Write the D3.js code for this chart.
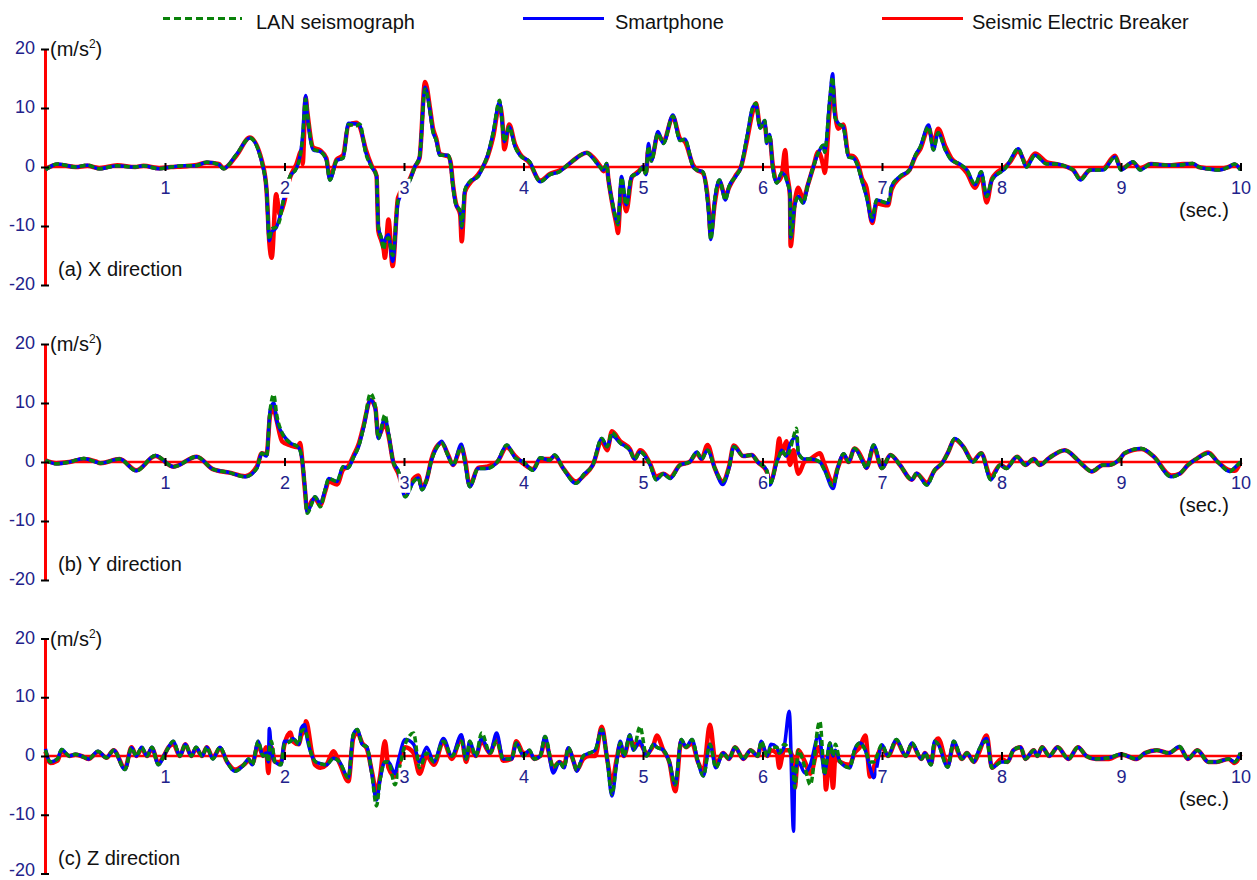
<!DOCTYPE html>
<html>
<head>
<meta charset="utf-8">
<script src="https://cdnjs.cloudflare.com/ajax/libs/d3/7.8.5/d3.min.js"></script>
<style>
  body { margin: 0; background: #fff; }
  svg { display: block; font-family: Arial, "Liberation Sans", sans-serif; }
</style>
</head>
<body>
<div id="chart"></div>
<script>
// ---- data (sec., m/s2) ----

// (a) X direction
var timeX = [
  0.00, 0.10, 0.25, 0.35, 0.45, 0.60, 0.75, 0.82, 0.95, 1.05,
  1.15, 1.25, 1.35, 1.45, 1.49, 1.60, 1.71, 1.82, 1.85, 1.873,
  1.893, 1.93, 1.96, 1.99, 2.046, 2.10, 2.144, 2.152, 2.177, 2.19,
  2.24, 2.30, 2.35, 2.38, 2.437, 2.49, 2.534, 2.60, 2.63, 2.68,
  2.73, 2.77, 2.785, 2.81, 2.83, 2.84, 2.87, 2.905, 2.95, 3.05,
  3.09, 3.13, 3.176, 3.22, 3.24, 3.27, 3.30, 3.37, 3.39, 3.41,
  3.435, 3.47, 3.483, 3.51, 3.55, 3.62, 3.66, 3.70, 3.745, 3.80,
  3.82, 3.84, 3.88, 3.93, 3.97, 4.05, 4.14, 4.22, 4.30, 4.35,
  4.41, 4.53, 4.58, 4.64, 4.67, 4.696, 4.71, 4.75, 4.78, 4.79,
  4.82, 4.86, 4.905, 4.96, 5.00, 5.025, 5.045, 5.07, 5.125, 5.17,
  5.25, 5.31, 5.35, 5.42, 5.45, 5.50, 5.55, 5.567, 5.60, 5.64,
  5.69, 5.72, 5.78, 5.82, 5.87, 5.92, 5.945, 5.98, 6.02, 6.035,
  6.06, 6.085, 6.12, 6.16, 6.19, 6.205, 6.23, 6.235, 6.27, 6.30,
  6.34, 6.38, 6.425, 6.467, 6.51, 6.52, 6.565, 6.587, 6.606, 6.634,
  6.676, 6.72, 6.76, 6.80, 6.83, 6.87, 6.918, 6.955, 7.05, 7.08,
  7.15, 7.23, 7.28, 7.32, 7.39, 7.43, 7.47, 7.53, 7.58, 7.65,
  7.71, 7.78, 7.83, 7.876, 7.92, 8.04, 8.07, 8.14, 8.21, 8.28,
  8.38, 8.45, 8.55, 8.60, 8.66, 8.74, 8.85, 8.95, 9.00, 9.10,
  9.16, 9.25, 9.40, 9.52, 9.60, 9.65, 9.72, 9.82, 9.90, 9.95, 10.0
];
var lanX = [
  -0.5, 0.5, 0, 0.3, -0.3, 0.2, 0, 0.2, -0.3, 0,
  0.2, 0.2, 0.8, 0.4, -0.3, 2.2, 4.9, 0, -4, -12.3,
  -10.5, -10.2, -9, -5.6, -1.6, -0.2, 3.5, 5, 11.5, 9.3,
  3.0, 2.6, 1.2, -2.2, 1.1, 1.5, 7.2, 7.0, 7.3, 2.3,
  0, -1.5, -10.1, -12, -14, -13, -12, -15, -5.6, -2.2,
  0, 1.7, 13.2, 9.1, 6.2, 4.5, 2, 2, 0.5, -3.3,
  -6.4, -7.5, -10, -3.9, -2.5, -1.6, 0, 2, 5.7, 11.3,
  7.9, 4.3, 6.8, 3.4, 2, 0.9, -2.5, -1.3, -0.8, 0,
  1.0, 2.4, 1.5, 0, -0.5, 0.6, -2, -6.7, -9.2, -9.8,
  -1.8, -6.4, -1.6, -1, 0, -1.3, 3.5, 1, 5.7, 4.0,
  8.6, 4.5, 4.7, 0, -0.5, -0.8, -7.8, -12.3, -5.6, -2.2,
  -5.6, -3.3, -1.5, 0, 5.1, 10.2, 10.8, 6.6, 7.9, 4.0,
  5.5, 0, -2.7, -1, -1.5, -2.5, -4.4, -12, -6.5, -5,
  -6.1, -3, 0, 2.4, 3.7, 2.5, 11.9, 15.2, 8.5, 7.4,
  6.8, 1.7, 1.5, 0, -2.2, -5.0, -8.5, -5.6, -6.1, -3.3,
  -1.6, -0.5, 2, 3.4, 6.8, 2.9, 5.8, 2.9, 1.2, 0.5,
  -0.5, -3, -0.8, -5, -2.2, 0, 1, 3.1, 0, 2.0,
  0.5, 0.5, 0, -0.5, -2.2, -0.5, -0.5, 1.7, -0.5, 0.9,
  -0.5, 0.5, 0.3, 0.4, 0.6, 0, -0.3, -0.5, 0, 0.5, -0.5
];
var phoneX = [
  -0.5, 0.5, 0, 0.3, -0.3, 0.2, 0, 0.2, -0.3, 0,
  0.2, 0.2, 0.8, 0.4, -0.3, 2.2, 4.9, 0, -4, -12.5,
  -11, -10.3, -8.5, -5.8, -1.6, -0.2, 3.8, 5.5, 12.1, 9.0,
  2.9, 2.6, 1.2, -2.2, 1.1, 1.5, 7.4, 7.3, 7.0, 2.5,
  0, -1.5, -10.1, -12, -13.5, -12.5, -11.5, -16, -6, -2.2,
  0, 1.7, 13.5, 9.1, 6.2, 4.5, 2, 2, 0.5, -3.3,
  -6.4, -7.5, -10.3, -3.9, -2.5, -1.6, 0, 2, 5.7, 11.0,
  7.9, 4.3, 6.8, 3.4, 2, 0.9, -2.5, -1.3, -0.8, 0,
  1.0, 2.4, 1.5, 0, -0.5, 0.6, -2, -6.7, -9.2, -9.5,
  -1.6, -6.4, -1.6, -1, 0, -1.3, 4, 1, 6.0, 4.0,
  8.8, 4.5, 4.7, 0, -0.5, -0.8, -7.8, -12.3, -5.6, -2.2,
  -5.6, -3.3, -1.5, 0, 5.1, 10.2, 10.5, 6.6, 7.9, 4.0,
  5.5, 0, -2.7, -1, -1.5, -2.5, -4.4, -12, -6.5, -5,
  -6.1, -3, 0, 2.4, 3.7, 2.5, 11.9, 15.8, 8.5, 7.4,
  6.8, 1.7, 1.5, 0, -2.2, -5.0, -9.2, -5.6, -6.1, -3.3,
  -1.6, -0.5, 2, 3.4, 7.1, 2.9, 5.8, 2.9, 1.2, 0.5,
  -0.5, -3, -0.8, -5, -2.2, 0, 1, 3.1, 0, 2.0,
  0.5, 0.5, 0, -0.5, -2.2, -0.5, -0.5, 1.7, -0.5, 0.9,
  -0.5, 0.5, 0.3, 0.4, 0.6, 0, -0.3, -0.5, 0, 0.5, -0.5
];
var breakerX = [
  -0.3, 0.4, 0, 0.2, -0.2, 0.3, 0, 0.2, -0.2, 0,
  0.1, 0.3, 0.7, 0.5, -0.2, 2.0, 5.0, 0.3, -4, -12.8,
  -15.4, -4.6, -8, -6.5, -1.8, 0.5, 2.8, 0.5, 11.8, 9.5,
  3.3, 2.8, 1.5, -1.8, 1.3, 2.0, 7.0, 7.5, 6.8, 3.0,
  0.2, -1.5, -10.8, -12.5, -14, -15.4, -8.9, -16.8, -5.2, -2.0,
  0, 1.5, 14.4, 9.6, 6.8, 4.8, 2.2, 1.8, 0.8, -3.0,
  -6.2, -8, -12.6, -4.2, -2.8, -1.3, 0, 1.8, 5.0, 10.5,
  8.5, 3.0, 7.2, 3.8, 2.2, 0.7, -2.3, -1.2, -0.6, 0,
  1.0, 2.4, 1.7, 0.2, -0.7, 0.3, -2, -7.0, -10.0, -11.2,
  -3.0, -7.5, -1.8, -0.8, 0, -1.0, 3.0, 1.3, 5.5, 4.3,
  8.5, 4.8, 4.3, 0.3, -0.5, -1.0, -7.0, -11.5, -6.2, -2.5,
  -5.0, -3.5, -1.3, 0, 4.5, 9.5, 10.8, 7.0, 7.0, 5.0,
  5.0, 0.5, -2.5, -1.5, 2.9, -1.0, -5, -13.4, -6.0, -3.5,
  -5.5, -3, 0, 2.6, 0, -1, 10.5, 14.0, 9.5, 6.5,
  7.2, 2.0, 1.8, 0.5, -1.8, -3.5, -9.5, -6.2, -6.5, -3.8,
  -1.8, -0.5, 1.8, 3.0, 6.6, 4.0, 6.5, 3.5, 1.5, 0.3,
  -1, -3.5, -1.5, -6, -2.0, 0.2, 0.8, 2.7, 0.5, 2.3,
  0.8, 0.5, 0, -0.5, -2.0, -0.5, -0.3, 1.9, -0.3, 0.7,
  -0.2, 0.5, 0.3, 0.5, 0.5, 0, -0.2, -0.4, 0, 0.4, -0.3
];

// (b) Y direction
var timeY = [
  0.00, 0.09, 0.20, 0.32, 0.42, 0.46, 0.62, 0.76, 0.92, 1.07,
  1.265, 1.40, 1.54, 1.67, 1.77, 1.81, 1.85, 1.88, 1.91, 1.935,
  1.98, 2.05, 2.11, 2.13, 2.15, 2.17, 2.19, 2.23, 2.255, 2.30,
  2.34, 2.37, 2.44, 2.49, 2.53, 2.58, 2.62, 2.66, 2.72, 2.76,
  2.785, 2.84, 2.87, 2.91, 2.95, 3.01, 3.08, 3.12, 3.15, 3.19,
  3.23, 3.27, 3.315, 3.37, 3.41, 3.48, 3.51, 3.55, 3.62, 3.69,
  3.78, 3.86, 3.93, 4.00, 4.08, 4.14, 4.22, 4.26, 4.33, 4.44,
  4.51, 4.58, 4.655, 4.70, 4.74, 4.81, 4.89, 4.93, 4.975, 5.06,
  5.11, 5.17, 5.226, 5.31, 5.39, 5.45, 5.49, 5.54, 5.60, 5.667,
  5.72, 5.76, 5.84, 5.91, 5.96, 6.035, 6.06, 6.12, 6.14, 6.16,
  6.20, 6.23, 6.26, 6.285, 6.30, 6.35, 6.40, 6.48, 6.52, 6.59,
  6.63, 6.68, 6.72, 6.77, 6.84, 6.87, 6.93, 7.00, 7.07, 7.15,
  7.25, 7.29, 7.375, 7.44, 7.51, 7.55, 7.61, 7.68, 7.76, 7.83,
  7.91, 7.99, 8.04, 8.13, 8.20, 8.27, 8.32, 8.40, 8.53, 8.63,
  8.68, 8.755, 8.85, 8.90, 8.99, 9.03, 9.17, 9.27, 9.42, 9.49,
  9.56, 9.63, 9.73, 9.81, 9.91, 9.95, 10.0
];
var lanY = [
  0.3, -0.3, 0, 0.6, 0, -0.2, 0.5, -1.5, 1.1, -0.8,
  0.9, -1.2, -1.8, -2.5, -1, 1.5, 1.0, 8.8, 11.4, 8,
  4.9, 3.2, 2.6, 2.0, 0, -4.2, -8.7, -7, -5.9, -7.6,
  -4.7, -2.8, -3.3, -0.8, -1, 0.9, 2.6, 5.7, 11.6, 9.4,
  4, 8, 4.9, 0, -1.4, -5.9, -3.3, -2.7, -4.7, -3,
  0.3, 2.3, 3.2, 1, -0.5, 2.5, 0, -4.2, -1.1, -1.1,
  0, 2.9, 0.7, 0, -1.4, 0.7, 0.3, 1.2, -1, -3.6,
  -2, -0.5, 4, 2.6, 5, 3.2, 2, 0.5, 1.7, -0.5,
  -3, -2, -2.8, -0.5, 0, 1.7, 0.5, 2, -1, -3.3,
  -1, 2.6, 1, 1.2, 0, -1.4, -3.9, 0, 1, 2,
  1, 2, 4.3, 5.7, 1.5, 0.5, 0.5, 0, -1.4, -4,
  -1, 1.4, 0, 2.3, 0, -1, 2.9, -1.1, 1.2, -0.5,
  -3, -1.9, -3.9, -1.4, 0, 1.5, 4, 2.6, 0, 1.5,
  -3, -0.5, -1.1, 0.9, -0.5, 0.5, -0.5, 0.7, 2, 0.5,
  -0.5, -1.6, -0.5, -0.5, 0.5, 1.5, 2.3, 1, -2.5, -2,
  -0.5, 0.5, 1.5, 0, -1.6, -1, 0
];
var phoneY = [
  0.3, -0.3, 0, 0.6, 0, -0.2, 0.5, -1.5, 1.1, -0.8,
  0.9, -1.2, -1.8, -2.5, -1, 1.5, 1.0, 8.8, 10, 7,
  4.9, 3.2, 2.6, 2.0, 0, -4.2, -8.5, -6.8, -5.9, -7.0,
  -4.7, -2.8, -3.3, -0.8, -1, 0.9, 2.6, 5.7, 10.5, 9,
  4, 7.5, 4.9, 0, -1.4, -5.9, -3.3, -2.7, -4.7, -3,
  0.3, 2.3, 3.5, 1, -0.5, 3, 0, -4.2, -1.1, -1.1,
  0, 2.9, 0.7, 0, -1.4, 0.7, 0.3, 1.2, -1, -3.6,
  -2, -0.5, 4, 2.6, 4.5, 3.2, 2, 0.5, 1.7, -0.5,
  -3, -2, -2.8, -0.5, 0, 1.7, 0.5, 2, -1, -3.8,
  -1, 2.6, 1, 1.2, 0, -1.4, -3.9, 0, 1, 2,
  1, 3, 4, 4.3, 1.5, 0.5, 0.5, 0, -1.4, -4.5,
  -1, 1.4, 0, 2.3, 0, -1, 2.9, -1.1, 1.2, -0.5,
  -3, -1.9, -3.9, -1.4, 0, 1.5, 4, 2.6, 0, 1.5,
  -3, -0.5, -1.1, 0.9, -0.5, 0.5, -0.5, 0.7, 2, 0.5,
  -0.5, -1.6, -0.5, -0.5, 0.5, 1.5, 2.3, 1, -2.5, -2,
  -0.5, 0.5, 1.5, 0, -1.6, -1, 0
];
var breakerY = [
  0.3, -0.2, 0, 0.5, 0.1, -0.2, 0.5, -1.4, 1.0, -0.8,
  0.9, -1.2, -1.8, -2.4, -0.7, 1.5, 1.3, 8, 9, 7,
  3.5, 2.8, 2.5, 3.2, 0, -4.5, -8.3, -6.5, -6.2, -7.3,
  -5, -3.3, -3.8, -1.3, -0.8, 1.2, 3, 6, 10.5, 9.2,
  4.3, 6.5, 4.5, 0, -1.8, -5, -2.8, -2.3, -4.3, -3,
  0.5, 2.5, 3.2, 1.2, -0.5, 2.5, 0.5, -4, -1, -0.8,
  0, 2.5, 1, -0.3, -1.2, 0.5, 0.5, 1, -1, -3.3,
  -2.2, -0.5, 3.5, 2, 5.2, 3.5, 2.2, 0.5, 2, -0.3,
  -2.5, -2, -2.6, -0.5, 0, 1.5, 0.5, 2.9, -1, -3.3,
  -0.8, 2.8, 1, 1.2, 0, -1.6, -3.5, 1, 4, 1.5,
  3.5, -0.5, 2, -1, -2, 0, 0.5, 1.5, -0.5, -3.5,
  -1, 1.2, 0, 2.3, 0.3, -1, 2.5, -1, 1.2, -0.5,
  -3, -2, -3.5, -1.4, 0, 1.5, 3.8, 2.6, 0.2, 1.5,
  -2.5, -0.5, -1, 0.9, -0.5, 0.5, -0.5, 0.7, 2, 0.5,
  -0.5, -1.6, -0.5, -0.5, 0.5, 1.5, 2.2, 1, -2.3, -2,
  -0.5, 0.5, 1.6, 0, -1.4, -1.5, 0
];

// (c) Z direction
var timeZ = [
  0.00, 0.04, 0.10, 0.135, 0.20, 0.25, 0.30, 0.36, 0.44, 0.51,
  0.57, 0.665, 0.72, 0.76, 0.805, 0.85, 0.89, 0.945, 0.99, 1.03,
  1.07, 1.125, 1.17, 1.22, 1.26, 1.31, 1.35, 1.40, 1.46, 1.52,
  1.585, 1.66, 1.70, 1.73, 1.78, 1.82, 1.845, 1.865, 1.873, 1.89,
  1.92, 1.97, 2.00, 2.05, 2.07, 2.12, 2.14, 2.17, 2.18, 2.23,
  2.255, 2.30, 2.35, 2.41, 2.46, 2.535, 2.575, 2.61, 2.65, 2.69,
  2.73, 2.77, 2.80, 2.84, 2.87, 2.925, 2.95, 3.01, 3.08, 3.13,
  3.19, 3.25, 3.33, 3.40, 3.48, 3.52, 3.55, 3.60, 3.65, 3.72,
  3.775, 3.83, 3.90, 3.94, 4.00, 4.05, 4.09, 4.14, 4.18, 4.25,
  4.30, 4.34, 4.375, 4.42, 4.445, 4.50, 4.55, 4.60, 4.655, 4.70,
  4.74, 4.78, 4.81, 4.84, 4.89, 4.92, 4.975, 5.03, 5.09, 5.115,
  5.17, 5.22, 5.27, 5.32, 5.36, 5.41, 5.46, 5.505, 5.56, 5.61,
  5.67, 5.72, 5.77, 5.84, 5.90, 5.96, 5.99, 6.04, 6.07, 6.12,
  6.14, 6.18, 6.224, 6.26, 6.27, 6.30, 6.355, 6.40, 6.47, 6.48,
  6.52, 6.53, 6.565, 6.59, 6.61, 6.65, 6.73, 6.77, 6.815, 6.86,
  6.90, 6.93, 7.00, 7.05, 7.12, 7.20, 7.25, 7.33, 7.36, 7.41,
  7.44, 7.47, 7.55, 7.60, 7.67, 7.71, 7.77, 7.81, 7.876, 7.92,
  8.00, 8.05, 8.10, 8.16, 8.20, 8.27, 8.30, 8.34, 8.40, 8.47,
  8.56, 8.64, 8.71, 8.79, 8.90, 9.00, 9.13, 9.20, 9.30, 9.40,
  9.49, 9.56, 9.64, 9.73, 9.80, 9.90, 9.95, 10.0
];
var lanZ = [
  1, -1, -0.5, 1.1, 0, 0.3, 0, -0.5, 0.8, -0.3,
  1, -2.3, 1.4, 0, 1.5, 0, 1.5, -1.5, 0, 1.5,
  2.5, 0, 2, 0, 1.5, 0, 1.5, -0.5, 1.5, -1,
  -2.6, -1.5, -0.5, -1.5, 2.5, 0, 0.5, -1, 1, 2.5,
  -1, -1.5, 2, 2.5, 3, 2, 4.2, 4.5, 4, 0,
  -0.9, -1.3, -1.5, -0.4, -1, -3.7, 3.6, 4.5, 2, 1.5,
  -2.9, -8.5, -4, -1, -1, -4.9, -3, 2, 3.9, -2,
  0.5, -1, 2.5, 0, 2.5, -0.5, 2.5, 0, 3.9, 0.5,
  2.5, -0.5, -0.5, 2.2, 0, 1, -0.5, 0, 3.3, -2,
  -1, -2, 1.4, -1, -2.4, 0, 0.5, 1, 4.5, -0.5,
  -6.5, -1, 2.2, 0, 3.5, 1, 5, 0, 2, 1.5,
  1, -1, -4.9, 2.8, 1.5, 2.8, -1, -3.4, 2, -2,
  0.5, -0.5, 1.5, -0.5, 1, 0, 2.5, 0, 1.5, 1.5,
  0.5, 2, 1, -3, -5.4, 1, -2, -4.9, 5.5, 5.9,
  -3.2, -2, 2.2, 0, 2, -1, -2, 1, 2.2, 1,
  -1, -1, 1.9, 0, 2.8, 0, 2.2, -0.5, 0.5, -1.5,
  2.5, 2, -1.9, 2.5, -0.5, 0.5, -1, 1, 2.5, -2,
  -1, -1, 1, 1.5, -0.5, 1, 0, 1.5, 0, 1.5,
  -0.5, 1.5, 0, -0.5, -0.3, 0.3, -0.5, 0.5, 1, 0.5,
  1.6, -0.5, 1, -1, -1, -0.5, -1, 0.5
];
var phoneZ = [
  1.2, -1, -0.5, 1.1, 0, 0.3, 0, -0.5, 0.8, -0.3,
  1, -2.3, 1.4, 0, 1.5, 0, 1.5, -1.5, 0, 1.5,
  2.5, 0, 2, 0, 1.5, 0, 1.5, -0.5, 1.5, -1,
  -2.6, -1.5, -0.5, -1.5, 2.5, 0, 0.5, -1, 4.7, 1,
  -1, -1.5, 2.5, 2.5, 3, 2, 4.7, 5.3, 4, 0,
  -0.9, -1.3, -1.5, -0.4, -1, -3.7, 3.6, 4.5, 2, 1.5,
  -2.9, -7.5, -4, -1, -1, -3, -1, 2.8, 2, -1,
  1.5, -1, 3, 0, 3.6, -0.5, 2.5, 0, 3, 0.5,
  3.9, -0.5, -0.5, 2.2, 0, 1, -0.5, 0, 3.3, -2.9,
  -1, -2, 1.4, -1, -2.6, 0, 0.5, 1, 4.5, -0.5,
  -6.8, -1, 2.5, 0, 3.6, 1, 2.5, 0, 2, 1.5,
  1, -1, -4.9, 2.8, 1.5, 2.8, -1, -3.4, 2, -2,
  0.5, -0.5, 1.5, -0.5, 1, 0, 2.5, 0, 2, 1.5,
  0.5, 1.5, 7.6, -12.8, -3, -1, -2.9, -1.5, 3.5, 3,
  -3, -2, 2.2, 0, 1, -1, -2, 1, 2.2, 1,
  -2, -3.7, 1.9, 0, 2.8, 0, 2.2, -0.5, 0.5, -1.5,
  2.5, 2, -1.9, 2.5, -0.5, 0.5, -1, 1, 3, -2,
  -1, -1, 1, 1.5, -0.5, 1, 0, 1.5, 0, 1.5,
  -0.5, 1.5, 0, -0.5, -0.3, 0.3, -0.5, 0.5, 1, 0.5,
  1.6, -0.5, 1, -1, -1, -0.5, -1, 0.5
];
var breakerZ = [
  0.8, -1.2, -0.8, 0.8, 0, 0.2, 0, -0.5, 0.7, -0.3,
  1, -2.1, 1.5, 0, 1.2, 0, 1.3, -1.2, 0, 1.5,
  2, 0, 2, 0, 1.3, 0, 1.5, -0.3, 1.3, -1,
  -2.3, -1.5, -0.8, -1.3, 2, 0, 1.5, -2.9, -1, 1.5,
  -1, -1, 2, 4, 2.5, 2, 3.5, 4.5, 5.9, 0.5,
  -1.5, -2, -1.5, 0.8, -1.2, -4.3, 3, 4, 2.2, 1.2,
  -2.5, -6, -3.5, 2.5, -2, -3.5, -2, 1.5, 0.5, -3,
  0, -1.5, 2.5, -0.5, 3.2, -1, 1.5, 0, 2.5, 0.5,
  3, -0.8, -0.5, 2.5, 0.5, 0.5, -0.5, 0, 2.5, -2,
  -1, -1.5, 1.2, -1, -2.4, -0.5, 0, 0, 5, -0.5,
  -4.5, -0.5, 2, 0, 3, 2, 2, 0.5, 2, 3.5,
  1, -1, -6, 2.5, 1.5, 2.2, -1, -2.5, 5.3, -1.5,
  0.5, -0.5, 1.5, -0.5, 1, 0, 2, 0, 1, 0.5,
  -2, 1, 1, -1, -5.4, 1, -1, -3, 1.5, 1,
  -2, -5.7, 1, -5.4, 0, -1, -1.5, 0.5, 1.5, 3.5,
  -3.5, -2, 1.5, 0, 2.5, 0, 2, -0.5, 0.5, -1.3,
  2, 3, -1.5, 2, -0.5, 0.5, -1, 0.5, 3.5, -2,
  -0.5, -1, 1, 1.5, -0.5, 1, 0, 1.5, 0, 1.5,
  -0.5, 1.5, 0, -0.5, -0.5, 0.3, -0.5, 0.5, 1, 0.5,
  1.5, -0.5, 1, -1, -1, -0.5, -1.2, 0.3
];

var xTicks = [1, 2, 3, 4, 5, 6, 7, 8, 9, 10];
var yTicks = [20, 10, 0, -10, -20];
var seriesNames = ['LAN seismograph', 'Smartphone', 'Seismic Electric Breaker'];
var panelLabels = ['(a) X direction', '(b) Y direction', '(c) Z direction'];

// ---- layout ----
var width = 1257;
var height = 880;
var tickColor = '#22228b';
var textFont = '20px';
var tickFont = '18px';
var panelZero = [167, 462, 756];
var panelHalf = [118, 118, 117.5];

var panels = [
  { label: panelLabels[0], time: timeX, lan: lanX, phone: phoneX, breaker: breakerX },
  { label: panelLabels[1], time: timeY, lan: lanY, phone: phoneY, breaker: breakerY },
  { label: panelLabels[2], time: timeZ, lan: lanZ, phone: phoneZ, breaker: breakerZ }
];

// drawn bottom to top: red, blue, green dashed
var styles = [
  { key: 'breaker', name: seriesNames[2], color: '#ff0000', width: 4.5, dash: null },
  { key: 'phone', name: seriesNames[1], color: '#0000ff', width: 3.5, dash: null },
  { key: 'lan', name: seriesNames[0], color: '#0a820a', width: 3.5, dash: '6,3' }
];

var svg = d3.select('#chart')
    .append('svg')
        .attr('width', width)
        .attr('height', height);

var x = d3.scaleLinear()
    .domain([0, 10])
    .range([45.5, 1240.5]);

// plain hyphen for negatives, as in the original
var plainFormat = function(d) { return String(d); };

// legend
var legendItems = [
  { style: styles[2], x1: 163, x2: 242, tx: 256 },
  { style: styles[1], x1: 523, x2: 604, tx: 615 },
  { style: styles[0], x1: 882, x2: 963, tx: 972 }
];
var legend = svg.append('g').attr('class', 'legend');
legendItems.forEach(function(item) {
  legend.append('line')
      .attr('x1', item.x1)
      .attr('x2', item.x2)
      .attr('y1', 18.5)
      .attr('y2', 18.5)
      .attr('stroke', item.style.color)
      .attr('stroke-width', 3)
      .attr('stroke-dasharray', item.style.dash ? '7,4' : null);
  legend.append('text')
      .attr('x', item.tx)
      .attr('y', 29)
      .style('font-size', textFont)
      .attr('fill', '#111')
      .text(item.style.name);
});

panels.forEach(function(panel, i) {
  var zero = panelZero[i];
  var half = panelHalf[i];
  var y = d3.scaleLinear()
      .domain([-20, 20])
      .range([zero + half, zero - half]);

  var g = svg.append('g').attr('class', 'panel');

  // red zero line and red y axis
  g.append('line')
      .attr('x1', x(0))
      .attr('x2', x(10))
      .attr('y1', y(0))
      .attr('y2', y(0))
      .attr('stroke', '#ff0000')
      .attr('stroke-width', 2.5);
  g.append('line')
      .attr('x1', x(0))
      .attr('x2', x(0))
      .attr('y1', y(20))
      .attr('y2', y(-20))
      .attr('stroke', '#ff0000')
      .attr('stroke-width', 3);

  // waveforms
  var line = d3.line()
      .x(function(d) { return x(d[0]); })
      .y(function(d) { return y(d[1]); })
      .curve(d3.curveMonotoneX);

  styles.forEach(function(s) {
    var pts = d3.zip(panel.time, panel[s.key]);
    g.append('path')
        .datum(pts)
        .attr('d', line)
        .attr('fill', 'none')
        .attr('stroke', s.color)
        .attr('stroke-width', s.width)
        .attr('stroke-linejoin', 'round')
        .attr('stroke-dasharray', s.dash);
  });

  // x axis ticks on the zero line
  var xAxis = g.append('g')
      .attr('transform', 'translate(0,' + (y(0) - 4) + ')')
      .call(d3.axisBottom(x)
          .tickValues(xTicks)
          .tickSize(8)
          .tickPadding(10)
          .tickFormat(plainFormat));
  xAxis.select('.domain').remove();
  xAxis.selectAll('.tick line')
      .attr('stroke', '#000')
      .attr('stroke-width', 2);
  xAxis.selectAll('.tick text')
      .attr('fill', tickColor)
      .style('font-size', tickFont)
      .style('font-family', 'Arial, "Liberation Sans", sans-serif');
  // labels sit on white boxes that hide the curves behind them
  xAxis.selectAll('.tick').each(function() {
    var tick = d3.select(this);
    var box = tick.select('text').node().getBBox();
    tick.insert('rect', 'text')
        .attr('x', box.x - 1)
        .attr('y', box.y + 1)
        .attr('width', box.width + 2)
        .attr('height', box.height - 1)
        .attr('fill', '#fff');
  });

  // y axis ticks
  var yAxis = g.append('g')
      .attr('transform', 'translate(49,0)')
      .call(d3.axisLeft(y)
          .tickValues(yTicks)
          .tickSize(8)
          .tickPadding(6)
          .tickFormat(plainFormat));
  yAxis.select('.domain').remove();
  yAxis.selectAll('.tick line')
      .attr('stroke', '#000')
      .attr('stroke-width', 2);
  yAxis.selectAll('.tick text')
      .attr('dy', function(d) {
        // keep the lowest label of the last panel inside the page
        return (i == panels.length - 1 && d == -20) ? '0.12em' : '0.26em';
      })
      .attr('fill', tickColor)
      .style('font-size', tickFont)
      .style('font-family', 'Arial, "Liberation Sans", sans-serif');

  // unit label
  var unit = g.append('text')
      .attr('x', 50)
      .attr('y', y(20) + 7)
      .style('font-size', textFont)
      .attr('fill', '#111');
  unit.append('tspan').text('(m/s');
  unit.append('tspan')
      .attr('dy', -8)
      .style('font-size', '12px')
      .text('2');
  unit.append('tspan')
      .attr('dy', 8)
      .text(')');

  // time unit
  g.append('text')
      .attr('x', 1179)
      .attr('y', y(0) + 50)
      .style('font-size', textFont)
      .attr('fill', '#111')
      .text('(sec.)');

  // panel title
  g.append('text')
      .attr('x', 58)
      .attr('y', y(0) + 109)
      .style('font-size', textFont)
      .attr('fill', '#111')
      .text(panel.label);
});
</script>
</body>
</html>
